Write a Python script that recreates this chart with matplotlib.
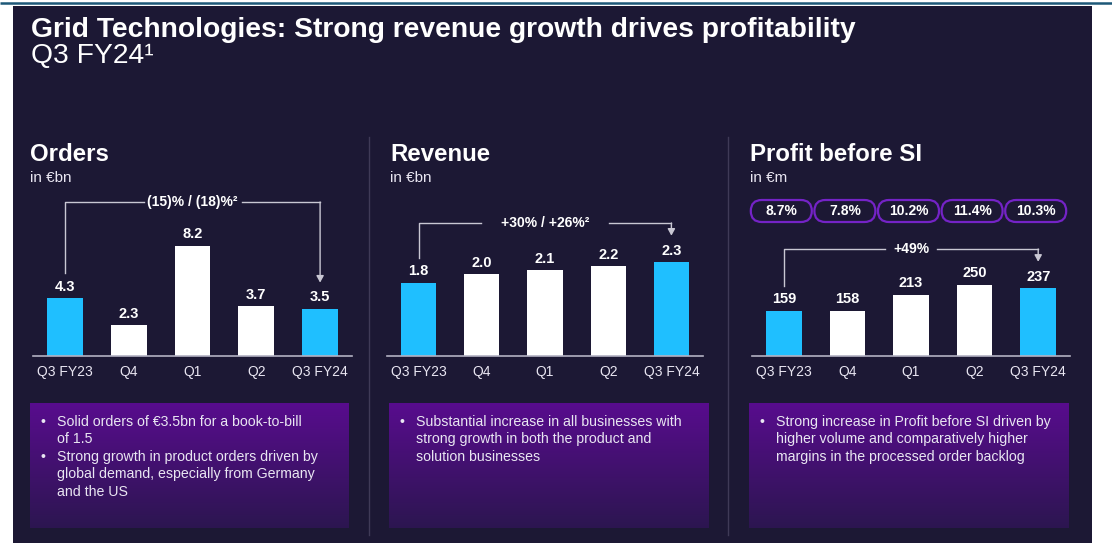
"""Grid Technologies Q3 FY24 slide: orders, revenue and profit before SI."""
import matplotlib.pyplot as plt
from matplotlib.patches import Rectangle, FancyBboxPatch
import numpy as np

plt.rcParams['font.family'] = ['Liberation Sans', 'DejaVu Sans']

W, H = 1112, 547
BG = '#1c1834'
CYAN = '#1fbfff'
LINE = '#c9c7d3'
TXT = '#e9e6f2'

# ---- data -------------------------------------------------------------
categories = ["Q3 FY23", "Q4", "Q1", "Q2", "Q3 FY24"]
orders = [4.3, 2.3, 8.2, 3.7, 3.5]
revenue = [1.8, 2.0, 2.1, 2.2, 2.3]
profit = [159, 158, 213, 250, 237]
profit_margin = ["8.7%", "7.8%", "10.2%", "11.4%", "10.3%"]

orders_change = "(15)% / (18)%²"
revenue_change = "+30% / +26%²"
profit_change = "+49%"

orders_notes = [["Solid orders of €3.5bn for a book-to-bill", "of 1.5"],
                ["Strong growth in product orders driven by",
                 "global demand, especially from Germany", "and the US"]]
revenue_notes = [["Substantial increase in all businesses with",
                  "strong growth in both the product and",
                  "solution businesses"]]
profit_notes = [["Strong increase in Profit before SI driven by",
                 "higher volume and comparatively higher",
                 "margins in the processed order backlog"]]

panels = [
    dict(title="Orders", unit="in €bn", values=orders, fmt="{:.1f}",
         change=orders_change, notes=orders_notes, title_x=30,
         ax_px=(33, 352), ytop=12.39, bracket_px=154, gap_px=49,
         box=(30, 403, 349, 528)),
    dict(title="Revenue", unit="in €bn", values=revenue, fmt="{:.1f}",
         change=revenue_change, notes=revenue_notes, title_x=390,
         ax_px=(387, 703), ytop=4.07, bracket_px=133, gap_px=64,
         box=(389, 403, 709, 528)),
    dict(title="Profit before SI", unit="in €m", values=profit, fmt="{:d}",
         change=profit_change, notes=profit_notes, title_x=750,
         ax_px=(752, 1070), ytop=581, bracket_px=107, gap_px=26,
         box=(749, 403, 1069, 528)),
]

BASE_PX = 356   # baseline, pixels from top
AX_H = 166      # axes height in pixels

fig = plt.figure(figsize=(W / 100, H / 100), dpi=100, facecolor='white')

# background layer in pixel coordinates
bg = fig.add_axes([0, 0, 1, 1])
bg.set_axis_off()
bg.plot([0, W], [3, 3], color='#1d5878', lw=1.8, solid_capstyle='butt')
bg.add_patch(Rectangle((13, 6), 1092 - 13, 543 - 6, color=BG, lw=0))
for sx in (369, 728):
    bg.plot([sx, sx], [137, 535], color='#3f3a57', lw=1)

bg.text(31, 37, "Grid Technologies: Strong revenue growth drives profitability",
        color='white', fontsize=20.3, fontweight='bold', va='baseline')
bg.text(31, 63, "Q3 FY24¹", color='white', fontsize=20.3, va='baseline')

grad = np.linspace(0, 1, 200)[:, None]
top_c = np.array([88, 12, 142]) / 255
bot_c = np.array([44, 22, 80]) / 255
grad_img = (top_c * (1 - grad) + bot_c * grad)[:, None, :].repeat(2, axis=1)

for p in panels:
    x0, y0, x1, y1 = p['box']
    bg.imshow(grad_img, extent=(x0, x1, y1, y0), aspect='auto',
              interpolation='bilinear', zorder=1)
    tx = p['title_x']
    bg.text(tx, 161, p['title'], color='white', fontsize=17.3,
            fontweight='bold', va='baseline')
    bg.text(tx, 181.5, p['unit'], color=TXT, fontsize=11, va='baseline')
    k = 0
    for bullet in p['notes']:
        bg.text(x0 + 13, 422 + k * 17.4, "•", color=TXT, fontsize=10.2,
                ha='center', va='center', zorder=3)
        for line in bullet:
            bg.text(x0 + 27, 422 + k * 17.4, line, color=TXT, fontsize=10.2,
                    va='center', zorder=3)
            k += 1

bg.set_xlim(0, W)
bg.set_ylim(H, 0)

x = np.arange(len(categories))
bar_colors = [CYAN, 'white', 'white', 'white', CYAN]
axes = []
for p in panels:
    l, r = p['ax_px']
    ax = fig.add_axes([l / W, (H - BASE_PX) / H, (r - l) / W, AX_H / H])
    ax.set_facecolor('none')
    ax.bar(x, p['values'], width=0.56, color=bar_colors, zorder=2)
    ax.set_xlim(-0.5, 4.5)
    ax.set_ylim(0, p['ytop'])
    for s in ('top', 'right', 'left'):
        ax.spines[s].set_visible(False)
    ax.spines['bottom'].set_color('#b3b1c2')
    ax.spines['bottom'].set_linewidth(1.2)
    ax.set_yticks([])
    ax.set_xticks(x, categories)
    ax.tick_params(axis='x', length=0, pad=6.5, labelsize=10, labelcolor=TXT)

    for i, v in enumerate(p['values']):
        ax.annotate(p['fmt'].format(v), (i, v), xytext=(0, 8.4),
                    textcoords='offset points', ha='center', va='center',
                    color='white', fontsize=10.5, fontweight='bold')

    # growth bracket from first to last bar
    ppu = AX_H / p['ytop']
    ppx = (r - l) / 5
    vals = p['values']
    yh = p['bracket_px'] / ppu
    gap = p['gap_px'] / ppx
    ax.plot([0, 0, 2 - gap], [vals[0] + 25 / ppu, yh, yh], color=LINE, lw=1,
            clip_on=False)
    ax.plot([2 + gap, 4], [yh, yh], color=LINE, lw=1, clip_on=False)
    ax.annotate('', xy=(4, vals[4] + 26.5 / ppu), xytext=(4, yh),
                arrowprops=dict(arrowstyle='-|>,head_length=0.4,head_width=0.22',
                                color=LINE, lw=1, shrinkA=0, shrinkB=0),
                annotation_clip=False)
    ax.text(2, yh, p['change'], ha='center', va='center', color='white',
            fontsize=10, fontweight='bold')
    axes.append(ax)

# margin pills above the profit bars
pax = axes[2]
fig.canvas.draw()
to_bg = bg.transData.inverted()
for i, m in enumerate(profit_margin):
    cx = to_bg.transform(pax.transData.transform((i, 0)))[0] - 2.5
    bg.add_patch(FancyBboxPatch((cx - 30.5, 200), 61, 22,
                                boxstyle='round,pad=0,rounding_size=11',
                                fc='none', ec='#7423c6', lw=1.6, zorder=3))
    bg.text(cx, 211, m, ha='center', va='center', color='white',
            fontsize=10, fontweight='bold', zorder=4)

fig.savefig('out.png', dpi=100, facecolor='white')
